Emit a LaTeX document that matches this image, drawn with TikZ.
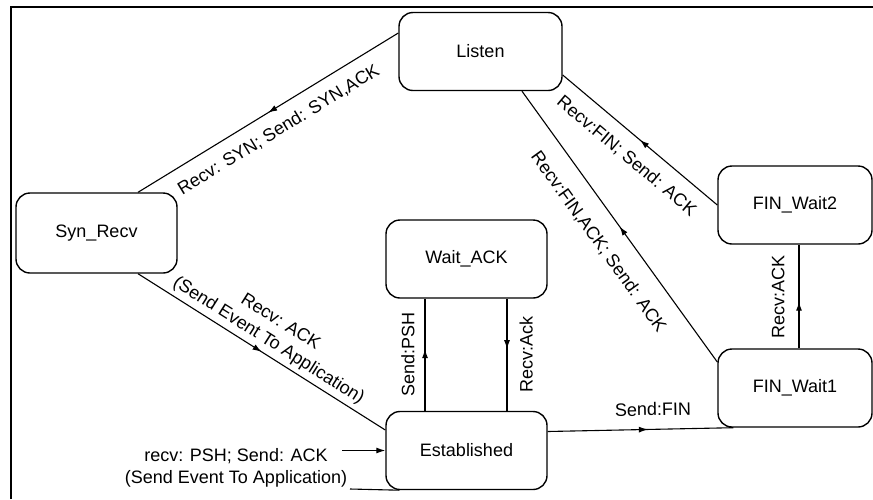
\documentclass[tikz,border=0pt]{standalone}
\usepackage{fontspec}
\setmainfont{Liberation Sans}
\usetikzlibrary{decorations.markings,arrows.meta}
\begin{document}
\begin{tikzpicture}[x=0.5pt,y=-0.5pt,
  state/.style={draw, line width=0.7pt, rounded corners=7pt, minimum width=80.5pt,
    minimum height=39pt, inner sep=0pt, font=\fontsize{9}{11}\selectfont},
  conn/.style={line width=0.55pt},
  midarrow/.style={postaction={decorate}, decoration={markings,
    mark=at position #1 with {\arrow{Latex[length=4.5pt,width=3pt]}}}},
  midarrow/.default=0.5,
  revarrow/.style={postaction={decorate}, decoration={markings,
    mark=at position #1 with {\arrowreversed{Latex[length=4.5pt,width=3pt]}}}},
  revarrow/.default=0.5,
  lbl/.style={font=\fontsize{9}{11}\selectfont, inner sep=0pt},
]
\useasboundingbox (0,0) rectangle (873,499);
% frame
\draw[line width=1pt] (11,499) -- (11,7) -- (873,7);

% states
\node[state, minimum width=81.5pt] (lis) at (480.5,51.5) {Listen};
\node[state, minimum height=40pt] (syn) at (96.5,233) {Syn\_Recv};
\node[state] (wa) at (466.5,259) {Wait\_ACK};
\node[state] (est) at (466.5,450.5) {Established};
\node[state, minimum width=77pt] (fw2) at (795,205) {FIN\_Wait2};
\node[state, minimum width=77pt] (fw1) at (795,388) {FIN\_Wait1};

% connectors
\draw[conn, midarrow] ([yshift=9.25pt]lis.west) --
  node[lbl, sloped, below=6pt] (l1) {Recv: SYN; Send: SYN,ACK}
  ([xshift=20.75pt]syn.north);
\draw[conn, midarrow] ([xshift=20.75pt]syn.south) --
  node[lbl, sloped, above=2pt, align=center] (l2) {Recv: ACK\\(Send Event To Application)}
  ([yshift=10.25pt]est.west);
\draw[conn, midarrow=0.55] ([xshift=-20.75pt]est.north) --
  node[lbl, sloped, above=5pt] (l3) {Send:PSH}
  ([xshift=-20.75pt]wa.south);
\draw[conn, revarrow=0.55] ([xshift=20.25pt]est.north) --
  node[lbl, sloped, below=6pt] (l4) {Recv:Ack}
  ([xshift=20.25pt]wa.south);
\draw[conn, midarrow=0.54] ([yshift=9.5pt]est.east) --
  node[lbl, sloped, above=6.5pt, pos=0.57] (l5) {Send:FIN}
  ([xshift=8pt]fw1.south west);
\draw[conn, midarrow=0.45] ([xshift=2pt]fw1.north) --
  node[lbl, sloped, above=7pt] (l6) {Recv:ACK}
  ([xshift=2pt]fw2.south);
\draw[conn, midarrow] (fw2.west) --
  node[lbl, sloped, below=6.4pt] (l7) {Recv:FIN; Send: ACK}
  ([yshift=-11.75pt]lis.east);
\draw[conn, midarrow] ([yshift=13pt]fw1.west) --
  node[lbl, sloped, below=9pt] (l8) {Recv:FIN,ACK; Send: ACK}
  ([xshift=20.75pt]lis.south);

% initial transition
\coordinate (init) at (342,450.5);
\draw[conn, -{Latex[length=4.5pt,width=3pt]}] (init) -- (est.west);
\node[lbl, align=center] (l9) at (236,468) {recv: PSH; Send: ACK\\(Send Event To Application)};
\coordinate (bl) at (350,489);
\draw[conn] (bl) -- ([xshift=7pt]est.south west);
\end{tikzpicture}
\end{document}
